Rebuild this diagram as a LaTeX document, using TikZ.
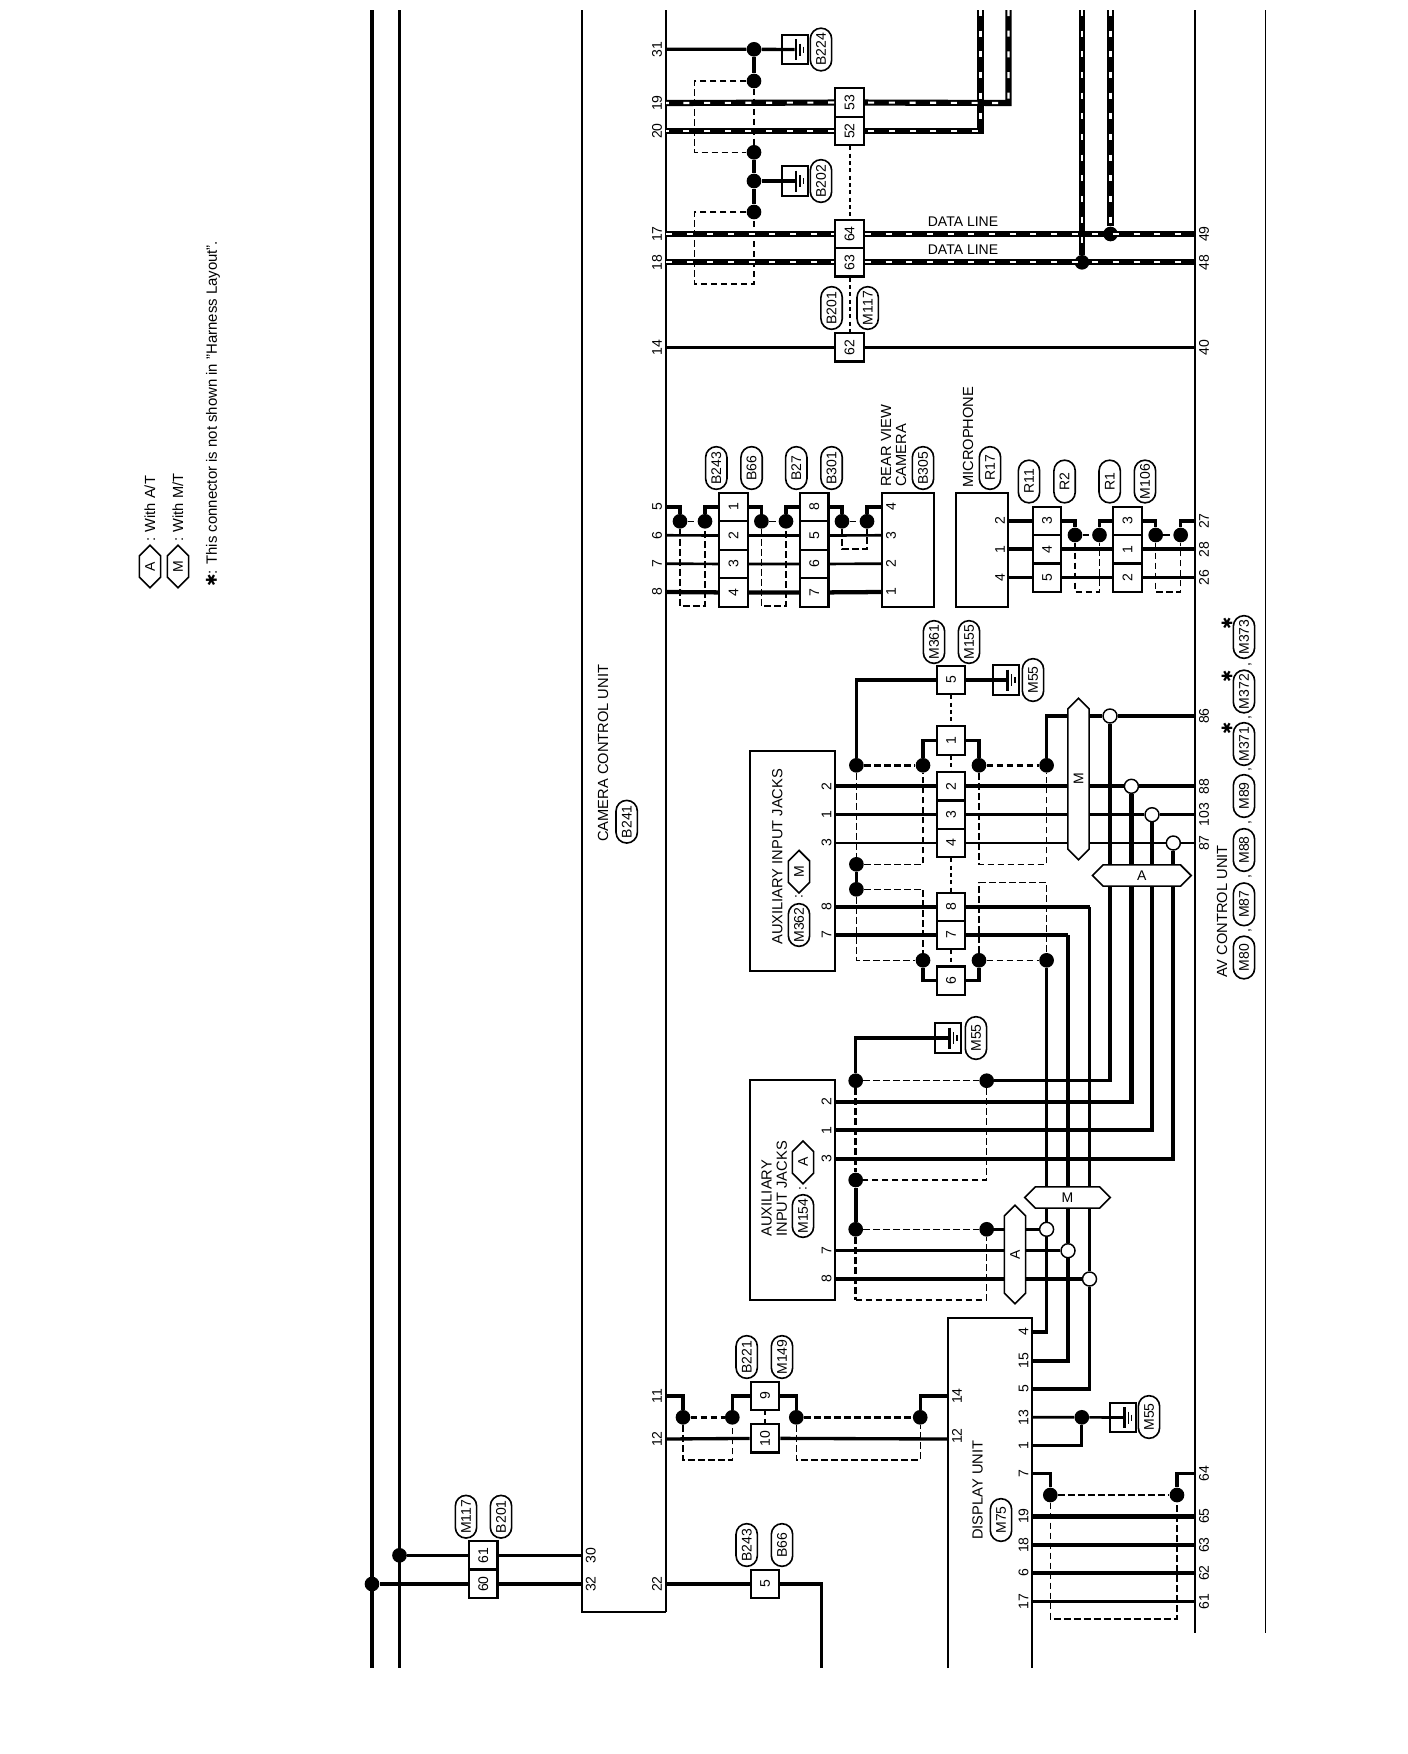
\documentclass[tikz,border=0pt]{standalone}
\usepackage{fontspec}
\setmainfont{Liberation Sans}
\newfontfamily\symb{DejaVu Sans}
\usetikzlibrary{shapes.misc,shapes.symbols}
\tikzset{
  wthin/.style={line width=2pt,line join=miter},
  wmid/.style={line width=2.5pt,line join=miter},
  wfat/.style={line width=3.2pt,line join=miter},
  shld/.style={line width=4.6pt,line join=miter,postaction={draw=white,line width=1.6pt,dash pattern=on 4.5pt off 11pt}},
  edgeline/.style={line width=1.2pt},
  shieldline/.style={line width=1pt,dash pattern=on 5pt off 2.5pt},
  shieldfat/.style={line width=1.9pt,dash pattern=on 5pt off 2.5pt},
  linkline/.style={line width=1.5pt,dash pattern=on 3pt off 2.5pt},
  jdot/.style={circle,fill=black,inner sep=0pt,minimum size=11pt},
  jopen/.style={circle,draw=black,fill=white,line width=1.1pt,inner sep=0pt,minimum size=10.5pt},
  cell/.style={draw,fill=white,line width=1.7pt,inner sep=0pt,minimum size=21.4pt,rotate=90,font=\fontsize{10.5}{10.5}\selectfont},
  pinl/.style={rotate=90,inner sep=0pt,font=\fontsize{10.5}{10.5}\selectfont},
  txt/.style={rotate=90,anchor=west,inner sep=0pt,font=\fontsize{11}{11}\selectfont},
  hzt/.style={inner sep=0pt,font=\fontsize{10.5}{10.5}\selectfont},
  oval/.style={rounded rectangle,draw,line width=1.2pt,rotate=90,inner sep=0pt,minimum width=32pt,minimum height=16pt,font=\fontsize{10.5}{10.5}\selectfont},
  hexa/.style={signal,signal to=east and west,signal pointer angle=90,draw,fill=white,line width=1.2pt,inner sep=0pt,minimum height=16pt,font=\fontsize{10.5}{10.5}\selectfont},
  gbox/.style={draw,line width=1.5pt,inner sep=0pt,minimum width=19.5pt,minimum height=21.8pt},
  earth/.pic={
    \draw[line width=2.2pt] (1.5,-10.5) -- (1.5,10.5);
    \draw[line width=0.8pt] (5.5,-6) -- (5.5,6);
    \draw[line width=0.8pt] (9,-3) -- (9,3);
  }
}
\begin{document}
\begin{tikzpicture}[x=0.75pt,y=-0.75pt]
\useasboundingbox (0,0) rectangle (1408,1754);

        % power rails and unit outlines
        \coordinate (R1T) at (372,10);
        \coordinate (R1B) at (372,1668);
        \coordinate (R2T) at (399.5,10);
        \coordinate (R2B) at (399.5,1668);
        \coordinate (CCa) at (582,10);
        \coordinate (CCb) at (582,1612);
        \coordinate (CCc) at (666,1612);
        \coordinate (CCd) at (666,10);
        \coordinate (AVa) at (1195,10);
        \coordinate (AVb) at (1195,1633);
        \coordinate (EDa) at (1265.6,10);
        \coordinate (EDb) at (1265.6,1633);
        \coordinate (DUa) at (948,1668);
        \coordinate (DUb) at (948,1318);
        \coordinate (DUc) at (1032,1318);
        \coordinate (DUd) at (1032,1668);

        \draw[wmid] (R1T) -- (R1B);
        \draw[line width=2.8pt] (R2T) -- (R2B);
        \draw[edgeline] (CCa) -- (CCb) -- (CCc);
        \draw[line width=1.7pt] (CCc) -- (CCd);
        \draw[edgeline] (AVa) -- (AVb);
        \draw[edgeline] (EDa) -- (EDb);
        \draw[edgeline] (DUa) -- (DUb) -- (DUc) -- (DUd);

        \node[jdot] (J60) at (372,1584) {};
        \node[jdot] (J61) at (399.5,1555.3) {};
        \node[cell] (C61) at (483.3,1555.3) {61};
        \node[cell] (C60) at (483.3,1584) {60};
        \coordinate (P30) at (582,1555.3);
        \coordinate (P32) at (582,1584);
        \draw[wmid] (J61) -- (C61) -- (P30);
        \draw[wmid] (J60) -- (C60) -- (P32);

        %%%
        % top: shielded lines and grounds
        \coordinate (P31) at (666,49.3);
        \coordinate (P19) at (666,103);
        \coordinate (P20) at (666,131);
        \coordinate (P17) at (666,234);
        \coordinate (P18) at (666,262.3);
        \coordinate (P14) at (666,347.3);
        \coordinate (T17) at (1195,234);
        \coordinate (T18) at (1195,262.3);
        \coordinate (T14) at (1195,347.3);
        \coordinate (K19) at (1008.5,103);
        \coordinate (U19) at (1008.5,10);
        \coordinate (K20) at (980.5,131);
        \coordinate (U20) at (980.5,10);
        \coordinate (U48) at (1082,10);
        \coordinate (U49) at (1110.5,10);
        \coordinate (S1a) at (694.6,81);
        \coordinate (S1b) at (694.6,152.3);
        \coordinate (S2a) at (694.6,212);
        \coordinate (S2b) at (694.6,284);
        \coordinate (S2c) at (754,284);

        \node[jdot] (J31) at (754,49.3) {};
        \node[jdot] (J32) at (754,81) {};
        \node[jdot] (J33) at (754,152.3) {};
        \node[jdot] (J34) at (754,181) {};
        \node[jdot] (J35) at (754,212) {};
        \node[jdot] (J48) at (1082,262.3) {};
        \node[jdot] (J49) at (1110.5,234) {};
        \node[gbox] (G224) at (794.5,49.5) {};
        \node[gbox] (G202) at (794.5,181) {};
        \pic at (G224) {earth};
        \pic at (G202) {earth};
        \node[cell] (C53) at (849.5,102.5) {53};
        \node[cell] (C52) at (849.5,131) {52};
        \node[cell] (C64) at (849.5,234) {64};
        \node[cell] (C63) at (849.5,262.3) {63};
        \node[cell] (C62) at (849.5,347.3) {62};

        \draw[wmid] (P31) -- (J31) -- (G224.center);
        \draw[wmid] (J31) -- (J32);
        \draw[wmid] (J33) -- (J34) -- (J35);
        \draw[wmid] (J34) -- (G202.center);
        \draw[shieldline] (J32) -- (S1a) -- (S1b) -- (J33);
        \draw[shieldline] (J32) -- (J33);
        \draw[shieldline] (J35) -- (S2a) -- (S2b) -- (S2c) -- (J35);
        \draw[shld] (U20) -- (K20) -- (C52) -- (P20);
        \draw[shld] (U19) -- (K19) -- (C53) -- (P19);
        \draw[shld] (U48) -- (J48);
        \draw[shld] (U49) -- (J49);
        \draw[shld] (P17) -- (C64) -- (T17);
        \draw[shld] (P18) -- (C63) -- (T18);
        \draw[wthin] (P14) -- (C62) -- (T14);
        \draw[linkline] (C52) -- (C64);
        \draw[linkline] (C63) -- (C62);

        \node[hzt] (D17) at (963,222) {DATA LINE};
        \node[hzt] (D18) at (963,250) {DATA LINE};
        \node[oval] (O224) at (821,49.5) {B224};
        \node[oval] (O202) at (821,181) {B202};
        \node[oval] (O201) at (831.6,308) {B201};
        \node[oval] (O117) at (867.7,308) {M117};
        \node[pinl] (A31) at (657,49.3) {31};
        \node[pinl] (A19) at (657,103) {19};
        \node[pinl] (A20) at (657,131) {20};
        \node[pinl] (A17) at (657,234) {17};
        \node[pinl] (A18) at (657,262.3) {18};
        \node[pinl] (A14) at (657,347.3) {14};
        \node[pinl] (B49) at (1204,234) {49};
        \node[pinl] (B48) at (1204,262.3) {48};
        \node[pinl] (B40) at (1204,347.3) {40};

        %%%
        % rear view camera and microphone
        \coordinate (P5) at (666,507);
        \coordinate (P6) at (666,535.3);
        \coordinate (P7) at (666,563.7);
        \coordinate (P8) at (666,592);
        \coordinate (Ka) at (680,507);
        \coordinate (Kb) at (705,507);
        \coordinate (Kc) at (761.4,507);
        \coordinate (Kd) at (786,507);
        \coordinate (Ke) at (842,507);
        \coordinate (Kf) at (867,507);
        \coordinate (Q4) at (882,507);
        \coordinate (Q3) at (882,535.3);
        \coordinate (Q2) at (882,563.7);
        \coordinate (Q1) at (882,592);
        \coordinate (Sa) at (680,606);
        \coordinate (Sb) at (705,606);
        \coordinate (Sc) at (761.4,606);
        \coordinate (Sd) at (786,606);
        \coordinate (Se) at (842,549);
        \coordinate (Sf) at (867,549);

        \node[jdot] (Ja) at (680,521.3) {};
        \node[jdot] (Jb) at (705,521.3) {};
        \node[jdot] (Jc) at (761.4,521.3) {};
        \node[jdot] (Jd) at (786,521.3) {};
        \node[jdot] (Je) at (842,521.3) {};
        \node[jdot] (Jf) at (867,521.3) {};
        \node[cell] (E1) at (733.5,507) {1};
        \node[cell] (E2) at (733.5,535.5) {2};
        \node[cell] (E3) at (733.5,564) {3};
        \node[cell] (E4) at (733.5,592.5) {4};
        \node[cell] (F8) at (814.3,507) {8};
        \node[cell] (F5) at (814.3,535.5) {5};
        \node[cell] (F6) at (814.3,564) {6};
        \node[cell] (F7) at (814.3,592.5) {7};
        \node[draw,line width=1.5pt,minimum width=39pt,minimum height=85.5pt,inner sep=0pt] (RVC) at (908,549.7) {};
        \node[draw,line width=1.5pt,minimum width=39pt,minimum height=85.5pt,inner sep=0pt] (MIC) at (981.7,549.7) {};

        \draw[wmid] (P5) -- (Ka) -- (Ja);
        \draw[wmid] (Jb) -- (Kb) -- (E1);
        \draw[wmid] (E1) -- (Kc) -- (Jc);
        \draw[wmid] (Jd) -- (Kd) -- (F8);
        \draw[wmid] (F8) -- (Ke) -- (Je);
        \draw[wmid] (Jf) -- (Kf) -- (Q4);
        \draw[wthin] (P6) -- (E2) -- (F5) -- (Q3);
        \draw[wthin] (P7) -- (E3) -- (F6) -- (Q2);
        \draw[wfat] (P8) -- (E4) -- (F7) -- (Q1);
        \draw[shieldline] (Ja) -- (Jb);
        \draw[shieldline] (Jc) -- (Jd);
        \draw[shieldline] (Je) -- (Jf);
        \draw[shieldline] (Ja) -- (Sa) -- (Sb) -- (Jb);
        \draw[shieldline] (Jc) -- (Sc) -- (Sd) -- (Jd);
        \draw[shieldline] (Je) -- (Se) -- (Sf) -- (Jf);

        \coordinate (V2) at (1008,521);
        \coordinate (V1) at (1008,549.3);
        \coordinate (V4) at (1008,577.7);
        \coordinate (T27) at (1195,521);
        \coordinate (T28) at (1195,549.3);
        \coordinate (T26) at (1195,577.7);
        \coordinate (Kg) at (1075,521);
        \coordinate (Kh) at (1099.5,521);
        \coordinate (Ki) at (1155.7,521);
        \coordinate (Kj) at (1180.7,521);
        \coordinate (Sg) at (1075,592);
        \coordinate (Sh) at (1099.5,592);
        \coordinate (Si) at (1155.7,592);
        \coordinate (Sj) at (1180.7,592);

        \node[jdot] (Jg) at (1075,535) {};
        \node[jdot] (Jh) at (1099.5,535) {};
        \node[jdot] (Ji) at (1155.7,535) {};
        \node[jdot] (Jj) at (1180.7,535) {};
        \node[cell] (H3) at (1047,521) {3};
        \node[cell] (H4) at (1047,549.3) {4};
        \node[cell] (H5) at (1047,577.7) {5};
        \node[cell] (I3) at (1127.5,521) {3};
        \node[cell] (I1) at (1127.5,549.3) {1};
        \node[cell] (I2) at (1127.5,577.7) {2};

        \draw[wmid] (V2) -- (H3) -- (Kg) -- (Jg);
        \draw[wmid] (Jh) -- (Kh) -- (I3) -- (Ki) -- (Ji);
        \draw[wmid] (Jj) -- (Kj) -- (T27);
        \draw[wfat] (V1) -- (H4) -- (I1) -- (T28);
        \draw[wthin] (V4) -- (H5) -- (I2) -- (T26);
        \draw[shieldline] (Jg) -- (Jh);
        \draw[shieldline] (Ji) -- (Jj);
        \draw[shieldline] (Jg) -- (Sg) -- (Sh) -- (Jh);
        \draw[shieldline] (Ji) -- (Si) -- (Sj) -- (Jj);

        \node[oval] (O243) at (716.3,468) {B243};
        \node[oval] (O66) at (751.6,468) {B66};
        \node[oval] (O27) at (796.3,468) {B27};
        \node[oval] (O301) at (831.6,468) {B301};
        \node[oval] (O305) at (923,468) {B305};
        \node[oval] (O17) at (990,468) {R17};
        \node[oval] (O11) at (1029,481.5) {R11};
        \node[oval] (OR2) at (1064.6,481.5) {R2};
        \node[oval] (OR1) at (1109.7,481.5) {R1};
        \node[oval] (O106) at (1145,481.5) {M106};
        \node[txt] (TRV) at (886,487) {REAR VIEW};
        \node[txt] (TCA) at (901,487) {CAMERA};
        \node[txt] (TMI) at (968,488) {MICROPHONE};
        \node[pinl] (A5) at (657,507) {5};
        \node[pinl] (A6) at (657,535.3) {6};
        \node[pinl] (A7) at (657,563.7) {7};
        \node[pinl] (A8) at (657,592) {8};
        \node[pinl] (Q4t) at (891,507) {4};
        \node[pinl] (Q3t) at (891,535.3) {3};
        \node[pinl] (Q2t) at (891,563.7) {2};
        \node[pinl] (Q1t) at (891,592) {1};
        \node[pinl] (V2t) at (1000,521) {2};
        \node[pinl] (V1t) at (1000,549.3) {1};
        \node[pinl] (V4t) at (1000,577.7) {4};
        \node[pinl] (B27) at (1204,521) {27};
        \node[pinl] (B28) at (1204,549.3) {28};
        \node[pinl] (B26) at (1204,577.7) {26};

        %%%
        % auxiliary input jacks with M/T
        \node[draw,line width=1.5pt,minimum width=63.8pt,minimum height=165pt,inner sep=0pt] (AUXM) at (792.4,860.7) {};
        \node[cell] (N5) at (951,680) {5};
        \node[cell] (N1) at (951,740.5) {1};
        \node[cell] (N2) at (951,786.3) {2};
        \node[cell] (N3) at (951,814.7) {3};
        \node[cell] (N4) at (951,843) {4};
        \node[cell] (N8) at (951,907) {8};
        \node[cell] (N7) at (951,935) {7};
        \node[cell] (N6) at (951,980.7) {6};
        \node[gbox] (G55a) at (1006,680) {};
        \pic at (G55a) {earth};
        \node[jdot] (Ma) at (856.4,765.3) {};
        \node[jdot] (Mb) at (923,765.3) {};
        \node[jdot] (Mc) at (979,765.3) {};
        \node[jdot] (Md) at (1046.6,765.3) {};
        \node[jdot] (Me) at (856.4,864.3) {};
        \node[jdot] (Mf) at (856.4,889.3) {};
        \node[jdot] (Mg) at (923,960.3) {};
        \node[jdot] (Mh) at (979,960.3) {};
        \node[jdot] (Mi) at (1046.6,960.3) {};
        \node[jopen] (W86) at (1110,716) {};
        \node[jopen] (W88) at (1131.4,786.3) {};
        \node[jopen] (W103) at (1152,814.7) {};
        \node[jopen] (W87) at (1173.3,843) {};
        \node[jopen] (W7a) at (1046.6,1229.3) {};
        \node[jopen] (W7b) at (1068,1250.7) {};
        \node[jopen] (W7c) at (1089.5,1279) {};

        \coordinate (Xa) at (856.4,680);
        \coordinate (Xb) at (923,740.5);
        \coordinate (Xc) at (979,740.5);
        \coordinate (Xd) at (1046.6,716);
        \coordinate (T86) at (1195,716);
        \coordinate (T88) at (1195,786.3);
        \coordinate (T103) at (1195,814.7);
        \coordinate (T87) at (1195,843);
        \coordinate (AM2) at (835,786.3);
        \coordinate (AM1) at (835,814.7);
        \coordinate (AM3) at (835,843);
        \coordinate (AM8) at (835,907);
        \coordinate (AM7) at (835,935);
        \coordinate (Xe) at (923,980.7);
        \coordinate (Xf) at (979,980.7);
        \coordinate (Xg) at (1089.5,907);
        \coordinate (Xh) at (1068,935);
        \coordinate (Ya) at (923,864.3);
        \coordinate (Yb) at (979,864.3);
        \coordinate (Yc) at (1046.6,864.3);
        \coordinate (Yd) at (923,889.3);
        \coordinate (Ye) at (979,882.7);
        \coordinate (Yf) at (1046.6,882.7);
        \coordinate (Yg) at (856.4,960.3);

        \draw[wmid] (Ma) -- (Xa) -- (N5) -- (G55a.center);
        \draw[wmid] (Mb) -- (Xb) -- (N1) -- (Xc) -- (Mc);
        \draw[wmid] (Md) -- (Xd) -- (W86) -- (T86);
        \draw[wfat] (AM2) -- (N2) -- (W88) -- (T88);
        \draw[wmid] (AM1) -- (N3) -- (W103) -- (T103);
        \draw[wthin] (AM3) -- (N4) -- (W87) -- (T87);
        \draw[wmid] (AM8) -- (N8) -- (Xg);
        \draw[wmid] (AM7) -- (N7) -- (Xh);
        \draw[wmid] (Mg) -- (Xe) -- (N6) -- (Xf) -- (Mh);
        \draw[wmid] (Me) -- (Mf);
        \draw[linkline] (N5) -- (N1);
        \draw[linkline] (N1) -- (N2);
        \draw[linkline] (N4) -- (N8);
        \draw[linkline] (N7) -- (N6);
        \draw[shieldfat] (Ma) -- (Mb);
        \draw[shieldfat] (Mc) -- (Md);
        \draw[shieldline] (Ma) -- (Me) -- (Ya) -- (Mb);
        \draw[shieldline] (Mc) -- (Yb) -- (Yc) -- (Md);
        \draw[shieldline] (Mf) -- (Yd) -- (Mg);
        \draw[shieldline] (Mf) -- (Yg) -- (Mg);
        \draw[shieldline] (Mh) -- (Ye) -- (Yf) -- (Mi);
        \draw[shieldline] (Mh) -- (Mi);

        %%%
        % auxiliary input jacks with A/T
        \node[draw,line width=1.5pt,minimum width=63.8pt,minimum height=165pt,inner sep=0pt] (AUXA) at (792.4,1190.3) {};
        \node[gbox] (G55b) at (948,1038) {};
        \pic at (G55b) {earth};
        \node[jdot] (La) at (855.7,1080.7) {};
        \node[jdot] (Lb) at (986.7,1080.7) {};
        \node[jdot] (Lc) at (855.7,1180) {};
        \node[jdot] (Ld) at (855.7,1229.3) {};
        \node[jdot] (Le) at (986.7,1229.3) {};

        \coordinate (Za) at (855.7,1038);
        \coordinate (Zb) at (1110,1080.7);
        \coordinate (Zc) at (1131.4,1101.7);
        \coordinate (Zd) at (1152,1130.3);
        \coordinate (Ze) at (1173.3,1158.7);
        \coordinate (AA2) at (835,1101.7);
        \coordinate (AA1) at (835,1130.3);
        \coordinate (AA3) at (835,1158.7);
        \coordinate (AA7) at (835,1250.7);
        \coordinate (AA8) at (835,1279);
        \coordinate (Zf) at (986.7,1180);
        \coordinate (Zg) at (855.7,1300);
        \coordinate (Zh) at (986.7,1300);

        \draw[wmid] (La) -- (Za) -- (G55b.center);
        \draw[wmid] (Lb) -- (Zb) -- (W86);
        \draw[wfat] (AA2) -- (Zc) -- (W88);
        \draw[wfat] (AA1) -- (Zd) -- (W103);
        \draw[wfat] (AA3) -- (Ze) -- (W87);
        \draw[wmid] (AA7) -- (W7b);
        \draw[wmid] (AA8) -- (W7c);
        \draw[wmid] (Le) -- (W7a);
        \draw[wfat] (Lc) -- (Ld);
        \draw[shieldline] (La) -- (Lb);
        \draw[shieldline] (Ld) -- (Le);
        \draw[shieldfat] (La) -- (Lc);
        \draw[shieldline] (Lb) -- (Zf) -- (Lc);
        \draw[shieldfat] (Ld) -- (Zg);
        \draw[shieldline] (Zg) -- (Zh) -- (Le);

        %%%
        % display unit
        \coordinate (Da4) at (1032,1332);
        \coordinate (Da15) at (1032,1360.7);
        \coordinate (Da5) at (1032,1389);
        \coordinate (Da13) at (1032,1417.3);
        \coordinate (Da1) at (1032,1445.3);
        \coordinate (Da7) at (1032,1473.7);
        \coordinate (Da19) at (1032,1516.3);
        \coordinate (Da18) at (1032,1545);
        \coordinate (Da6) at (1032,1573);
        \coordinate (Da17) at (1032,1601.7);
        \coordinate (Ca4) at (1046.6,1332);
        \coordinate (Ca15) at (1068,1360.7);
        \coordinate (Ca5) at (1089.5,1389);
        \coordinate (Ca1) at (1081.8,1445.3);
        \coordinate (Ca7) at (1050.3,1473.7);
        \coordinate (Cb7) at (1177,1473.7);
        \coordinate (T64) at (1195,1473.7);
        \coordinate (T65) at (1195,1516.3);
        \coordinate (T63) at (1195,1545);
        \coordinate (T62) at (1195,1573);
        \coordinate (T61) at (1195,1601.7);
        \coordinate (Sk) at (1050.3,1619);
        \coordinate (Sl) at (1177,1619);

        \node[jdot] (Dm) at (1081.8,1417.3) {};
        \node[jdot] (Dn) at (1050.3,1495) {};
        \node[jdot] (Dp) at (1177,1495) {};
        \node[gbox] (G55c) at (1122.8,1417.5) {};
        \pic at (G55c) {earth};

        \draw[wmid] (Mi) -- (W7a) -- (Ca4) -- (Da4);
        \draw[wfat] (Xh) -- (W7b) -- (Ca15) -- (Da15);
        \draw[wmid] (Xg) -- (W7c) -- (Ca5) -- (Da5);
        \draw[wthin] (Da13) -- (Dm) -- (G55c.center);
        \draw[wthin] (Da1) -- (Ca1) -- (Dm);
        \draw[wmid] (Da7) -- (Ca7) -- (Dn);
        \draw[wmid] (Dp) -- (Cb7) -- (T64);
        \draw[line width=3.6pt] (Da19) -- (T65);
        \draw[wfat] (Da18) -- (T63);
        \draw[wmid] (Da6) -- (T62);
        \draw[wthin] (Da17) -- (T61);
        \draw[shieldline] (Dn) -- (Dp);
        \draw[shieldline] (Dn) -- (Sk) -- (Sl) -- (Dp);

        %%%
        % lower connectors
        \coordinate (P11) at (666,1396);
        \coordinate (P12) at (666,1439);
        \coordinate (P22) at (666,1584);
        \coordinate (Ua) at (683,1396);
        \coordinate (Ub) at (732.3,1396);
        \coordinate (Uc) at (796.3,1396);
        \coordinate (Ud) at (920.2,1396);
        \coordinate (DU14) at (948,1396);
        \coordinate (DU12) at (948,1439);
        \coordinate (Sm) at (683,1460);
        \coordinate (Sn) at (732.3,1460);
        \coordinate (Sp) at (796.3,1460);
        \coordinate (Sq) at (920.2,1460);
        \coordinate (Ue) at (821.3,1584);
        \coordinate (Uf) at (821.3,1668);

        \node[jdot] (Ka1) at (683,1417.3) {};
        \node[jdot] (Ka2) at (732.3,1417.3) {};
        \node[jdot] (Ka3) at (796.3,1417.3) {};
        \node[jdot] (Ka4) at (920.2,1417.3) {};
        \node[cell] (C9) at (765,1396) {9};
        \node[cell] (C10) at (765,1438.3) {10};
        \node[cell] (C5L) at (765,1584) {5};

        \draw[wmid] (P11) -- (Ua) -- (Ka1);
        \draw[wmid] (Ka2) -- (Ub) -- (C9) -- (Uc) -- (Ka3);
        \draw[wmid] (Ka4) -- (Ud) -- (DU14);
        \draw[wmid] (P12) -- (C10) -- (DU12);
        \draw[wmid] (P22) -- (C5L) -- (Ue) -- (Uf);
        \draw[linkline] (C9) -- (C10);
        \draw[shieldfat] (Ka1) -- (Ka2);
        \draw[shieldfat] (Ka3) -- (Ka4);
        \draw[shieldline] (Ka1) -- (Sm) -- (Sn) -- (Ka2);
        \draw[shieldline] (Ka3) -- (Sp) -- (Sq) -- (Ka4);

        %%%
        % option hexagons sit over the wires
        \node[hexa,rotate=90,minimum width=121pt] (HMa) at (1078.5,779) {M};
        \node[hexa,minimum width=74pt] (HAa) at (1141.8,875.5) {A};
        \node[hexa,minimum width=64pt] (HMb) at (1067.5,1197.5) {M};
        \node[hexa,rotate=90,minimum width=74pt] (HAb) at (1015,1254.5) {A};
        \node[hexa,rotate=90,minimum width=32pt] (HMc) at (799,871.7) {M};
        \node[hexa,rotate=90,minimum width=32pt] (HAc) at (803,1162.3) {A};
        \node[hexa,rotate=90,minimum width=32pt] (LEGA) at (150,566.5) {A};
        \node[hexa,rotate=90,minimum width=32pt] (LEGM) at (178,566.5) {M};

        \node[oval] (O361) at (934,642) {M361};
        \node[oval] (O155) at (969,642) {M155};
        \node[oval] (O55a) at (1033,680) {M55};
        \node[oval] (O55b) at (976,1038) {M55};
        \node[oval] (O55c) at (1149,1417) {M55};
        \node[oval] (O362) at (799,925) {M362};
        \node[oval] (O154) at (803,1216) {M154};
        \node[oval] (O241) at (626.7,821.7) {B241};
        \node[oval] (O221) at (746.7,1357) {B221};
        \node[oval] (O149) at (782,1357) {M149};
        \node[oval] (O243b) at (746.7,1545) {B243};
        \node[oval] (O66b) at (782,1545) {B66};
        \node[oval] (O75) at (1001,1520) {M75};
        \node[oval] (O117b) at (466,1516.7) {M117};
        \node[oval] (O201b) at (501,1516.7) {B201};
        \node[oval] (O80) at (1244,957.5) {M80};
        \node[oval] (O87) at (1244,904.3) {M87};
        \node[oval] (O88) at (1244,850) {M88};
        \node[oval] (O89) at (1244,796) {M89};
        \node[oval] (O371) at (1244,744) {M371};
        \node[oval] (O372) at (1244,691.5) {M372};
        \node[oval] (O373) at (1244,637) {M373};

        \node[pinl] (C1a) at (1250,931) {,};
        \node[pinl] (C1b) at (1250,877) {,};
        \node[pinl] (C1c) at (1250,823) {,};
        \node[pinl] (C1d) at (1250,770) {,};
        \node[pinl] (C1e) at (1250,718) {,};
        \node[pinl] (C1f) at (1250,665) {,};
        \node[pinl,font=\symb\fontsize{11}{11}\selectfont] (ST1) at (1227,728) {✱};
        \node[pinl,font=\symb\fontsize{11}{11}\selectfont] (ST2) at (1227,676) {✱};
        \node[pinl,font=\symb\fontsize{11}{11}\selectfont] (ST3) at (1227,623) {✱};
        \node[pinl] (CM1) at (799,897) {:};
        \node[pinl] (CM2) at (803,1189) {:};

        \node[txt] (TAI) at (777.4,945) {AUXILIARY INPUT JACKS};
        \node[txt] (TAU) at (766.7,1236.7) {AUXILIARY};
        \node[txt] (TIN) at (781.7,1236.7) {INPUT JACKS};
        \node[txt] (TCC) at (603,842) {CAMERA CONTROL UNIT};
        \node[txt] (TDU) at (977.6,1540) {DISPLAY UNIT};
        \node[txt] (TAV) at (1222,978) {AV CONTROL UNIT};
        \node[txt] (TLA) at (150,542) {: With A/T};
        \node[txt] (TLM) at (178,542) {: With M/T};
        \node[txt,font=\fontsize{11.2}{11.2}\selectfont] (TLS) at (213,587) {{\symb ✱}: This connector is not shown in "Harness Layout".};

        \node[pinl] (AM2t) at (826.6,786.3) {2};
        \node[pinl] (AM1t) at (826.6,814.7) {1};
        \node[pinl] (AM3t) at (826.6,843) {3};
        \node[pinl] (AM8t) at (826.6,907) {8};
        \node[pinl] (AM7t) at (826.6,935) {7};
        \node[pinl] (AA2t) at (826.6,1101.7) {2};
        \node[pinl] (AA1t) at (826.6,1130.3) {1};
        \node[pinl] (AA3t) at (826.6,1158.7) {3};
        \node[pinl] (AA7t) at (826.6,1250.7) {7};
        \node[pinl] (AA8t) at (826.6,1279) {8};
        \node[pinl] (B86) at (1204,716) {86};
        \node[pinl] (B88) at (1204,786.3) {88};
        \node[pinl] (B103) at (1204,814.7) {103};
        \node[pinl] (B87) at (1204,843) {87};
        \node[pinl] (A11) at (657,1396) {11};
        \node[pinl] (A12) at (657,1439) {12};
        \node[pinl] (A22) at (657,1584) {22};
        \node[pinl] (I30) at (590.7,1555.3) {30};
        \node[pinl] (I32) at (590.7,1584) {32};
        \node[pinl] (I14) at (957,1396) {14};
        \node[pinl] (I12) at (957,1436) {12};
        \node[pinl] (E4t) at (1023.6,1332) {4};
        \node[pinl] (E15t) at (1023.6,1360.7) {15};
        \node[pinl] (E5t) at (1023.6,1389) {5};
        \node[pinl] (E13t) at (1023.6,1417.3) {13};
        \node[pinl] (E1t) at (1023.6,1445.3) {1};
        \node[pinl] (E7t) at (1023.6,1473.7) {7};
        \node[pinl] (E19t) at (1023.6,1516) {19};
        \node[pinl] (E18t) at (1023.6,1545) {18};
        \node[pinl] (E6t) at (1023.6,1573) {6};
        \node[pinl] (E17t) at (1023.6,1601.7) {17};
        \node[pinl] (B64) at (1204,1473.7) {64};
        \node[pinl] (B65) at (1204,1516) {65};
        \node[pinl] (B63) at (1204,1545) {63};
        \node[pinl] (B62) at (1204,1573) {62};
        \node[pinl] (B61) at (1204,1601.7) {61};
\end{tikzpicture}
\end{document}
